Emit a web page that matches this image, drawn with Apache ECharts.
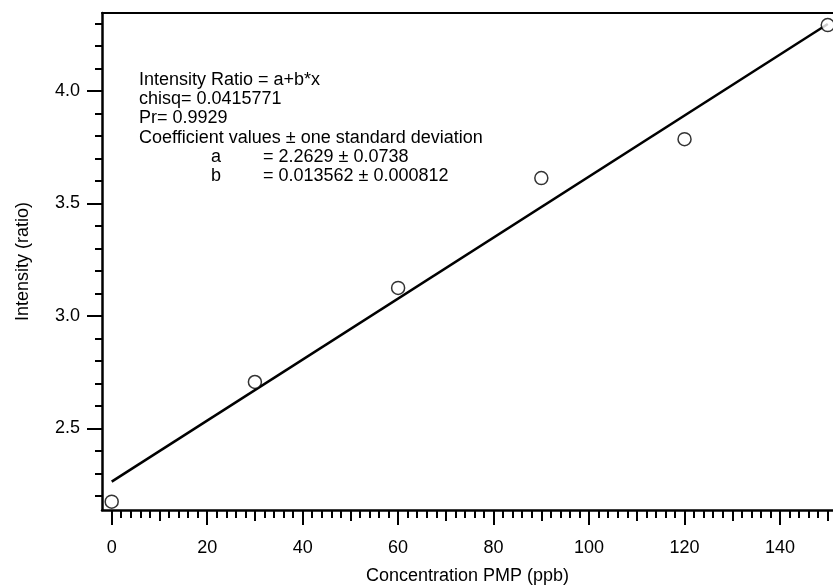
<!DOCTYPE html>
<html>
<head>
<meta charset="utf-8">
<script src="https://cdn.jsdelivr.net/npm/echarts@6/dist/echarts.min.js"></script>
<style>
  html, body { margin: 0; padding: 0; background: #fff; }
  #chart { width: 833px; height: 586px; }
</style>
</head>
<body>
<div id="chart"></div>
<script>
// Measured calibration points
const concentration = [0, 30, 60, 90, 120, 150];
const intensityRatio = [2.174, 2.706, 3.124, 3.612, 3.785, 4.292];

// Linear fit coefficients: Intensity Ratio = a + b*x
const fitA = 2.2629;
const fitB = 0.013562;
const fitRange = [0, 150];

// Axis ticks
const xMajorTicks = [0, 20, 40, 60, 80, 100, 120, 140];
const xMidTicks = [10, 30, 50, 70, 90, 110, 130, 150];
const xMinorTicks = [];
for (let v = 2; v <= 150; v += 2) xMinorTicks.push(v);
const yMajorTicks = [2.5, 3.0, 3.5, 4.0];
const yMinorTicks = [];
for (let v = 22; v <= 43; v++) yMinorTicks.push(v / 10);

// Fit summary text
const fitHeader = [
  'Intensity Ratio = a+b*x',
  'chisq= 0.0415771',
  'Pr= 0.9929',
  'Coefficient values \u00b1 one standard deviation'
];
const coefNames = ['a', 'b'];
const coefValues = ['= 2.2629 \u00b1 0.0738', '= 0.013562 \u00b1 0.000812'];

const FONT = '"Liberation Sans", Arial, sans-serif';
const xRange = [-2.03, 151.1];
const yRange = [2.1369, 4.3458];

const fitLine = fitRange.map(x => [x, fitA + fitB * x]);
const points = concentration.map((x, i) => [x, intensityRatio[i]]);

function tickAxis(pos, values, len, extra) {
  return Object.assign({
    type: 'value', position: pos, gridIndex: 0,
    min: pos === 'left' ? yRange[0] : xRange[0],
    max: pos === 'left' ? yRange[1] : xRange[1],
    axisLine: { show: false, onZero: false },
    axisTick: { show: true, inside: false, length: len, customValues: values,
                lineStyle: { color: '#000', width: 2 } },
    axisLabel: { show: false },
    splitLine: { show: false }
  }, extra || {});
}

const LINE_H = 19.2;
const textLines = [];
fitHeader.forEach((t, i) => {
  textLines.push({ type: 'text', left: 139, top: 81 + i * LINE_H - 10,
    style: { text: t, font: '18px ' + FONT, fill: '#000' } });
});
coefNames.forEach((t, i) => {
  textLines.push({ type: 'text', left: 211, top: 81 + (4 + i) * LINE_H - 10,
    style: { text: t, font: '18px ' + FONT, fill: '#000' } });
  textLines.push({ type: 'text', left: 263, top: 81 + (4 + i) * LINE_H - 10,
    style: { text: coefValues[i], font: '18px ' + FONT, fill: '#000' } });
});

const chart = echarts.init(document.getElementById('chart'), null, { renderer: 'canvas' });
chart.setOption({
  animation: false,
  backgroundColor: '#fff',
  grid: { left: 102, top: 13, right: 0, bottom: 76, containLabel: false,
          outerBoundsMode: 'none' },
  xAxis: [
    {
      type: 'value', position: 'bottom', min: xRange[0], max: xRange[1],
      axisLine: { show: true, onZero: false, lineStyle: { color: '#000', width: 2.5 } },
      axisTick: { show: true, inside: false, length: 15, customValues: xMajorTicks,
                  lineStyle: { color: '#000', width: 2 } },
      axisLabel: { show: true, customValues: xMajorTicks, margin: 29, color: '#000',
                   fontSize: 18, fontFamily: FONT },
      splitLine: { show: false },
      name: 'Concentration PMP (ppb)', nameLocation: 'middle', nameGap: 57,
      nameTextStyle: { color: '#000', fontSize: 18, fontFamily: FONT }
    },
    tickAxis('bottom', xMidTicks, 11),
    tickAxis('bottom', xMinorTicks, 8),
    {
      type: 'value', position: 'top', min: xRange[0], max: xRange[1],
      axisLine: { show: true, onZero: false, lineStyle: { color: '#000', width: 2 } },
      axisTick: { show: false }, axisLabel: { show: false }, splitLine: { show: false }
    }
  ],
  yAxis: [
    {
      type: 'value', position: 'left', min: yRange[0], max: yRange[1],
      axisLine: { show: true, onZero: false, lineStyle: { color: '#000', width: 2.5 } },
      axisTick: { show: true, inside: false, length: 15, customValues: yMajorTicks,
                  lineStyle: { color: '#000', width: 2 } },
      axisLabel: { show: true, customValues: yMajorTicks, margin: 22, color: '#000',
                   fontSize: 18, fontFamily: FONT,
                   formatter: v => v.toFixed(1) },
      splitLine: { show: false },
      name: 'Intensity (ratio)', nameLocation: 'middle', nameGap: 70, nameRotate: 90,
      nameTextStyle: { color: '#000', fontSize: 18, fontFamily: FONT }
    },
    tickAxis('left', yMinorTicks, 7)
  ],
  series: [
    {
      type: 'line', xAxisIndex: 0, yAxisIndex: 0, data: fitLine,
      showSymbol: false, symbol: 'none', z: 2,
      lineStyle: { color: '#000', width: 2.5 }
    },
    {
      type: 'scatter', xAxisIndex: 0, yAxisIndex: 0, data: points,
      symbol: 'circle', symbolSize: 13, z: 3,
      itemStyle: { color: '#fff', borderColor: '#000', borderWidth: 1.5 }
    }
  ],
  graphic: textLines
});
</script>
</body>
</html>
